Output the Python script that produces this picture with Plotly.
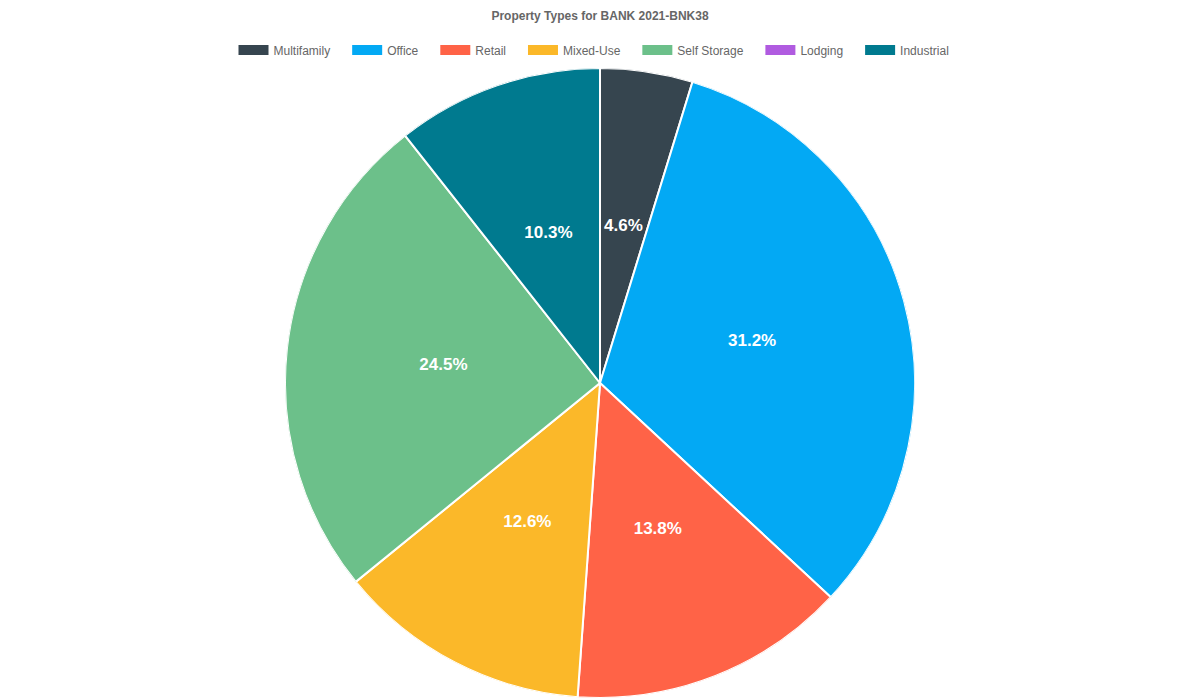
import plotly.graph_objects as go

categories = ["Multifamily", "Office", "Retail", "Mixed-Use", "Self Storage", "Lodging", "Industrial"]
values = [4.6, 31.2, 13.8, 12.6, 24.5, 0.0, 10.3]
labels_text = ["4.6%", "31.2%", "13.8%", "12.6%", "24.5%", "", "10.3%"]
colors = ["#36454F", "#03A9F4", "#FF6347", "#FBB829", "#6CC08A", "#B05BE0", "#007A8F"]

W, H = 1200, 700
M_T, M_B = 68, 2
plot_h = H - M_T - M_B

# slice geometry in degrees (clockwise from top), derived from the values
total = sum(values)
widths = [v / total * 360 for v in values]
mid_theta = []
acc = 0.0
for w in widths:
    mid_theta.append(acc + w / 2)
    acc += w

fig = go.Figure()
fig.add_trace(go.Barpolar(
    r=[1] * len(values),
    theta=mid_theta,
    width=widths,
    marker=dict(color=colors, line=dict(color="#FFFFFF", width=2)),
    hovertext=[f"{c}: {t}" for c, t in zip(categories, labels_text)],
    hoverinfo="text",
    showlegend=False,
))

fig.add_trace(go.Scatterpolar(
    r=[0.5] * len(values),
    theta=mid_theta,
    text=labels_text,
    mode="text",
    textposition="middle center",
    textfont=dict(family="Liberation Sans", size=17, color="#FFFFFF", weight="bold"),
    showlegend=False,
    hoverinfo="skip",
))

for name, col in zip(categories, colors):
    fig.add_trace(go.Scatter(
        x=[None], y=[None], mode="lines", name=name + "\u2002\u2002",
        line=dict(color=col, width=10),
        showlegend=True, hoverinfo="skip",
    ))

fig.update_layout(
    width=W, height=H,
    margin=dict(l=0, r=0, t=M_T, b=M_B, autoexpand=False),
    paper_bgcolor="#FFFFFF", plot_bgcolor="#FFFFFF",
    polar=dict(
        domain=dict(x=[0, 1], y=[0, 1]),
        bgcolor="rgba(0,0,0,0)",
        radialaxis=dict(range=[0, 1], visible=False, showgrid=False, showline=False),
        angularaxis=dict(direction="clockwise", rotation=90, visible=False, showgrid=False, showline=False),
        hole=0,
        bargap=0,
    ),
    title=dict(text="<b>Property Types for BANK 2021-BNK38</b>", x=0.5, xanchor="center",
               y=1 - 16 / H, yanchor="middle",
               font=dict(family="Liberation Sans", size=12, color="#666666")),
    legend=dict(orientation="h", x=0.5, xanchor="center", y=1 + (M_T - 50) / plot_h, yanchor="middle",
                font=dict(family="Liberation Sans", size=12, color="#666666"),
                itemwidth=30, tracegroupgap=0, itemclick=False, itemdoubleclick=False),
    xaxis=dict(visible=False), yaxis=dict(visible=False),
)

fig.write_html("out.html", config={"displayModeBar": False},
               post_script="document.body.style.margin='0';")
